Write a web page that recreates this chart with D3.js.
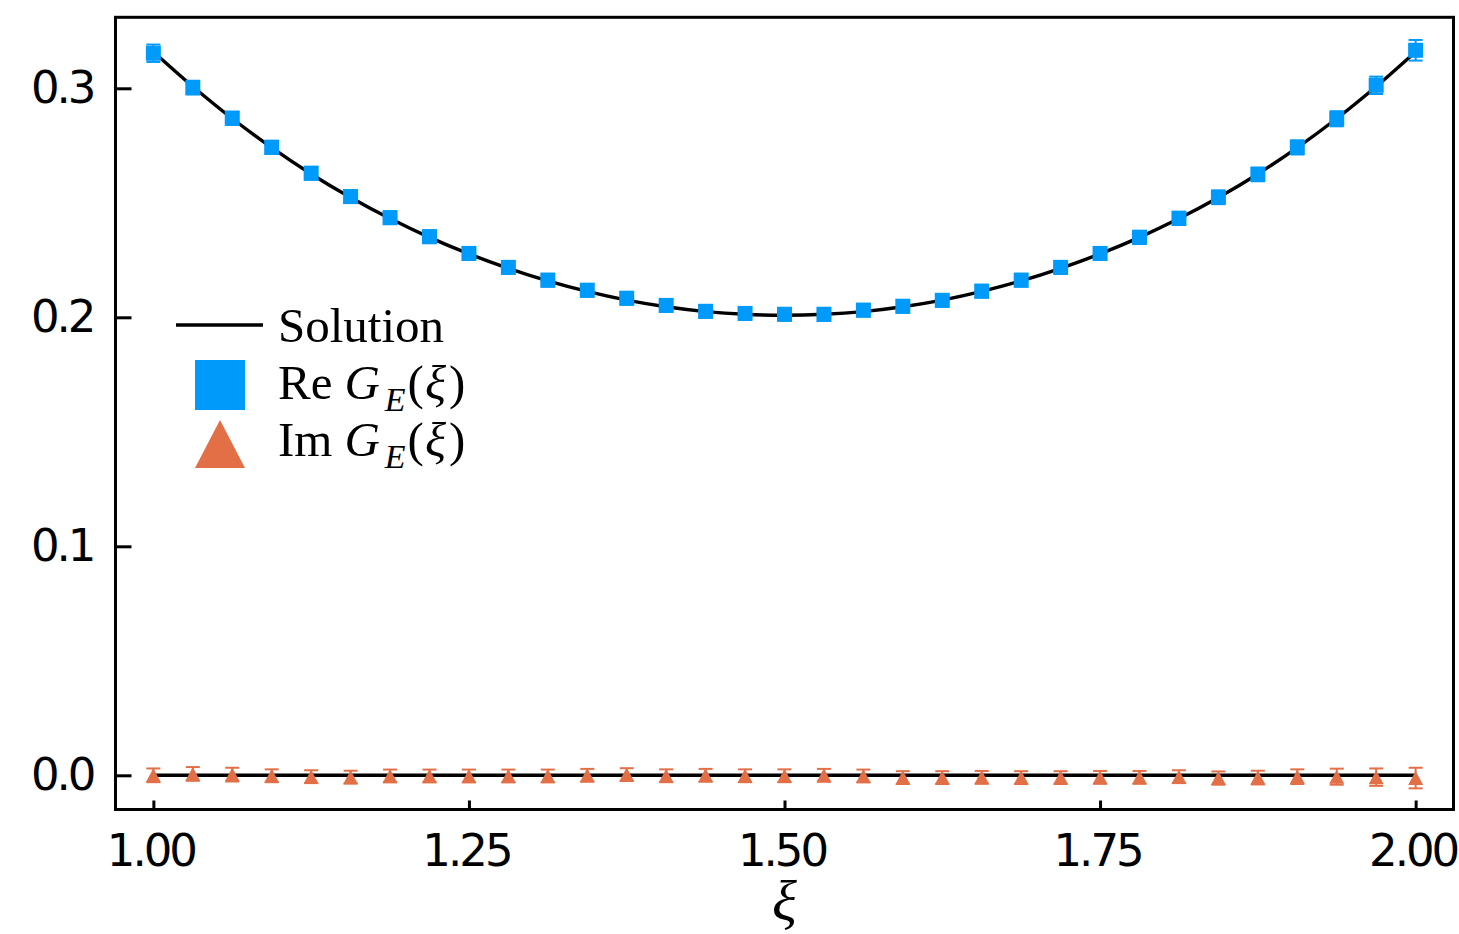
<!DOCTYPE html>
<html>
<head>
<meta charset="utf-8">
<script src="https://cdn.jsdelivr.net/npm/d3@7"></script>
<style>
  html, body { margin: 0; padding: 0; background: #ffffff; }
  svg { display: block; }
</style>
</head>
<body>
<svg id="chart" width="1459" height="934"></svg>
<script>
// Sample points ξ on [1, 2]
const xi = [1.00000, 1.03125, 1.06250, 1.09375, 1.12500, 1.15625, 1.18750, 1.21875,
            1.25000, 1.28125, 1.31250, 1.34375, 1.37500, 1.40625, 1.43750, 1.46875,
            1.50000, 1.53125, 1.56250, 1.59375, 1.62500, 1.65625, 1.68750, 1.71875,
            1.75000, 1.78125, 1.81250, 1.84375, 1.87500, 1.90625, 1.93750, 1.96875,
            2.00000];

// Re G_E(ξ) estimates and their errors
const reG = [0.3153, 0.3003, 0.2869, 0.2742, 0.2629, 0.2527, 0.2435, 0.2352,
             0.2279, 0.2218, 0.2162, 0.2118, 0.2083, 0.2052, 0.2026, 0.2017,
             0.2013, 0.2013, 0.2031, 0.2048, 0.2074, 0.2114, 0.2162, 0.2218,
             0.2279, 0.2349, 0.2432, 0.2524, 0.2624, 0.2742, 0.2867, 0.3013,
             0.3166];
const reErr = [0.0038, 0.0030, 0.0029, 0.0029, 0.0028, 0.0028, 0.0028, 0.0028,
               0.0028, 0.0028, 0.0028, 0.0028, 0.0028, 0.0028, 0.0028, 0.0028,
               0.0028, 0.0028, 0.0028, 0.0028, 0.0028, 0.0028, 0.0028, 0.0028,
               0.0028, 0.0029, 0.0029, 0.0030, 0.0030, 0.0031, 0.0033, 0.0038,
               0.0045];

// Im G_E(ξ) estimates and their errors
const imG = [0.0000, 0.0006, 0.0003, -0.0002, -0.0006, -0.0008, -0.0003, -0.0003,
             -0.0003, -0.0003, -0.0003, 0.0000, 0.0003, -0.0002, 0.0000, -0.0002,
             -0.0002, 0.0000, -0.0003, -0.0010, -0.0010, -0.0009, -0.0010, -0.0010,
             -0.0009, -0.0009, -0.0006, -0.0012, -0.0010, -0.0006, -0.0006, -0.0008,
             -0.0012];
const imErr = [0.0030, 0.0030, 0.0030, 0.0028, 0.0028, 0.0028, 0.0028, 0.0028,
               0.0028, 0.0028, 0.0028, 0.0028, 0.0028, 0.0028, 0.0028, 0.0028,
               0.0028, 0.0028, 0.0028, 0.0028, 0.0028, 0.0028, 0.0028, 0.0028,
               0.0028, 0.0028, 0.0028, 0.0029, 0.0030, 0.0032, 0.0035, 0.0038,
               0.0045];

// Exact solution (real part) and the vanishing imaginary part
const solutionRe = [0.3160, 0.3008, 0.2868, 0.2741, 0.2626, 0.2523, 0.2431, 0.2349,
                    0.2277, 0.2214, 0.2159, 0.2113, 0.2075, 0.2046, 0.2025, 0.2013,
                    0.2009, 0.2013, 0.2025, 0.2046, 0.2075, 0.2113, 0.2159, 0.2214,
                    0.2277, 0.2349, 0.2431, 0.2523, 0.2626, 0.2741, 0.2868, 0.3008,
                    0.3160];
const solutionImX = [1.0, 2.0];
const solutionIm = [0.0, 0.0];

const xTicks = [1.00, 1.25, 1.50, 1.75, 2.00];
const yTicks = [0.0, 0.1, 0.2, 0.3];

const colRe = "#009AFA";
const colIm = "#E36F47";

const svg = d3.select("#chart");
const frame = { left: 115.5, right: 1453.5, top: 17.3, bottom: 809.5 };

const x = d3.scaleLinear().domain([0.97, 2.03]).range([frame.left, frame.right]);
const y = d3.scaleLinear().domain([-0.01493, 0.331]).range([frame.bottom, frame.top]);

const plot = svg.append("g");

// Solution curves
const line = d3.line().curve(d3.curveCatmullRom.alpha(0.5));
plot.append("path")
  .attr("d", line(xi.map((v, i) => [x(v), y(solutionRe[i])])))
  .attr("fill", "none").attr("stroke", "#000").attr("stroke-width", 3.4);
plot.append("path")
  .attr("d", d3.line()(solutionImX.map((v, i) => [x(v), y(solutionIm[i])])))
  .attr("fill", "none").attr("stroke", "#000").attr("stroke-width", 3.4);

// Error bars with caps
function errorBars(values, errs, color, capW) {
  const g = plot.append("g").attr("stroke", color).attr("stroke-width", 2);
  xi.forEach((v, i) => {
    const cx = x(v), y0 = y(values[i] - errs[i]), y1 = y(values[i] + errs[i]);
    g.append("line").attr("x1", cx).attr("x2", cx).attr("y1", y0).attr("y2", y1);
    g.append("line").attr("x1", cx - capW / 2).attr("x2", cx + capW / 2).attr("y1", y0).attr("y2", y0);
    g.append("line").attr("x1", cx - capW / 2).attr("x2", cx + capW / 2).attr("y1", y1).attr("y2", y1);
  });
}
errorBars(reG, reErr, colRe, 14);
errorBars(imG, imErr, colIm, 14);

// Markers
const sq = 15;
plot.append("g").selectAll("rect").data(xi).join("rect")
  .attr("x", (d) => x(d) - sq / 2)
  .attr("y", (d, i) => y(reG[i]) - sq / 2)
  .attr("width", sq).attr("height", sq)
  .attr("fill", colRe);

const triW = 15, triH = 14;
const triPath = `M0,${-triH / 2}L${triW / 2},${triH / 2}L${-triW / 2},${triH / 2}Z`;
plot.append("g").selectAll("path").data(xi).join("path")
  .attr("d", triPath)
  .attr("transform", (d, i) => `translate(${x(d)},${y(imG[i])})`)
  .attr("fill", colIm);

// Frame
svg.append("rect")
  .attr("x", frame.left).attr("y", frame.top)
  .attr("width", frame.right - frame.left).attr("height", frame.bottom - frame.top)
  .attr("fill", "none").attr("stroke", "#000").attr("stroke-width", 3);

// Axes (ticks pointing inward)
const tickFont = "'DejaVu Sans', sans-serif";
const xAxis = svg.append("g")
  .attr("transform", `translate(0,${frame.bottom})`)
  .call(d3.axisBottom(x).tickValues(xTicks).tickFormat(d3.format(".2f"))
        .tickSizeInner(-9).tickSizeOuter(0).tickPadding(25));
const yAxis = svg.append("g")
  .attr("transform", `translate(${frame.left},0)`)
  .call(d3.axisLeft(y).tickValues(yTicks).tickFormat(d3.format(".1f"))
        .tickSizeInner(-16).tickSizeOuter(0).tickPadding(22));

[xAxis, yAxis].forEach((g) => {
  g.select(".domain").remove();
  g.selectAll(".tick line").attr("stroke", "#000").attr("stroke-width", 3);
  g.selectAll(".tick text")
    .attr("fill", "#000")
    .style("font-family", tickFont)
    .style("font-size", "45px")
    .style("letter-spacing", "-3px");
});
xAxis.selectAll(".tick text").attr("dx", "-3px");

// Axis title ξ
svg.append("text")
  .attr("x", x(1.5)).attr("y", 920)
  .attr("text-anchor", "middle")
  .style("font-family", "'Liberation Serif', serif")
  .style("font-style", "italic")
  .style("font-size", "58px")
  .text("ξ");

// Legend
const legFont = "'Liberation Serif', serif";
const leg = svg.append("g").style("font-family", legFont).style("font-size", "49px");

leg.append("line").attr("x1", 176).attr("x2", 263).attr("y1", 325).attr("y2", 325)
  .attr("stroke", "#000").attr("stroke-width", 3.4);
leg.append("text").attr("x", 278).attr("y", 342).text("Solution");

leg.append("rect").attr("x", 195).attr("y", 360).attr("width", 50).attr("height", 50)
  .attr("fill", colRe);
leg.append("path").attr("d", "M220,420L245,468L195,468Z").attr("fill", colIm);

function complexLabel(prefix, yBase) {
  const t = leg.append("text").attr("x", 278).attr("y", yBase);
  t.append("tspan").text(prefix);
  t.append("tspan").attr("dx", 12).style("font-style", "italic").text("G");
  t.append("tspan").attr("dx", 5).attr("dy", 12).style("font-style", "italic")
    .style("font-size", "34px").text("E");
  t.append("tspan").attr("dx", 2).attr("dy", -12).text("(");
  t.append("tspan").attr("dx", 1).style("font-style", "italic").text("ξ");
  t.append("tspan").attr("dx", 3).text(")");
}
complexLabel("Re", 399);
complexLabel("Im", 456);
</script>
</body>
</html>
